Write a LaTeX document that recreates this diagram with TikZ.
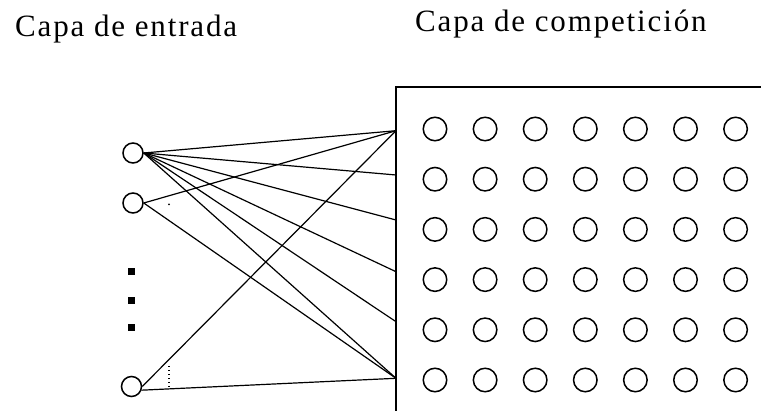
\documentclass[tikz,border=0pt]{standalone}
\usepackage{fontspec}
\setmainfont{Liberation Serif}[LetterSpace=6]
\begin{document}
\begin{tikzpicture}[x=1pt,y=-1pt,
  inunit/.style={circle,draw,line width=1.5pt,minimum size=20pt,inner sep=0pt},
  gunit/.style={circle,draw,line width=1.5pt,minimum size=23.5pt,inner sep=0pt},
  conn/.style={line width=1.2pt},
  dotsq/.style={fill=black,minimum size=6.5pt,inner sep=0pt},
  label/.style={anchor=base west,inner sep=0pt,font=\fontsize{31}{37}\selectfont}]
\useasboundingbox (0,0) rectangle (761,411);
% titles
\node[label] (t1) at (15,37) {Capa de entrada};
\node[label] (t2) at (415,32) {Capa de competición};
% competition layer frame
\draw[line width=2pt] (396,415) -- (396,87) -- (765,87);
% grid of units
\foreach \r [count=\ri] in {129,179.2,229.4,279.6,329.8,380}{
  \foreach \c [count=\ci] in {435,485.1,535.2,585.3,635.4,685.5,735.6}{
    \node[gunit] (g\ri-\ci) at (\c,\r) {};
  }
}
% connection end points on the frame
\coordinate (e1) at (396,130.7);
\coordinate (e2) at (396,175);
\coordinate (e3) at (396,220);
\coordinate (e4) at (396,271.7);
\coordinate (e5) at (396,321.7);
\coordinate (e6) at (396,378.3);
% input units
\node[inunit] (i1) at (133,153) {};
\node[inunit] (i2) at (133,203) {};
\node[inunit] (i3) at (131.5,386.5) {};
\node[dotsq] (d1) at (131.7,271.7) {};
\node[dotsq] (d2) at (131.7,300.5) {};
\node[dotsq] (d3) at (131.7,327.3) {};
% connections
\foreach \e in {e1,e2,e3,e4,e5,e6}{
  \draw[conn] (i1.east) -- (\e);
}
\draw[conn] (i2.east) -- (e1);
\draw[conn] (i2.east) -- (e6);
\draw[conn] (i3.east) -- (e1);
\draw[conn] (i3.-20) -- (e6);
% dotted mark and stray dot
\coordinate (p1) at (169,366);
\coordinate (p2) at (169,389);
\draw[line width=1.3pt,dash pattern=on 1.3pt off 2.7pt] (p1) -- (p2);
\fill (169,204.3) circle (1);
\end{tikzpicture}
\end{document}
